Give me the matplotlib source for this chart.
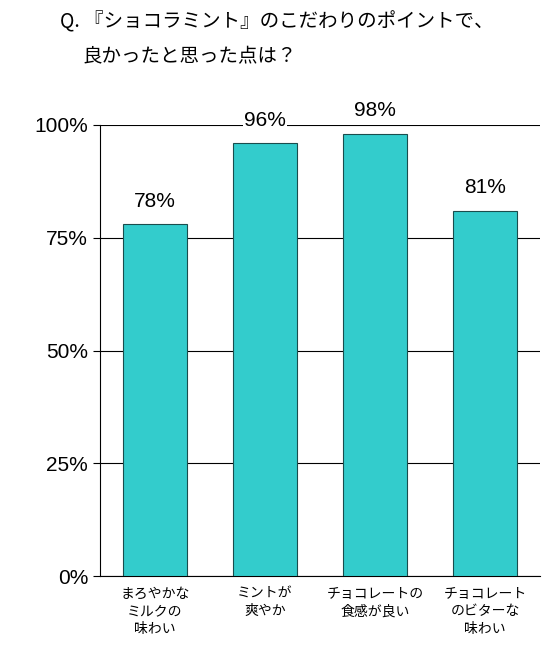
import matplotlib
matplotlib.use("Agg")
import matplotlib.pyplot as plt

plt.rcParams['font.family'] = ['Noto Sans CJK JP', 'DejaVu Sans']

categories = ["まろやかな\nミルクの\n味わい", "ミントが\n爽やか", "チョコレートの\n食感が良い", "チョコレート\nのビターな\n味わい"]
values = [78, 96, 98, 81]
yticks = [0, 25, 50, 75, 100]

fig = plt.figure(figsize=(5.49, 6.71), dpi=100)
ax = fig.add_axes([100/549, 1-576/671, 440/549, 451/671])

x = range(len(categories))
ax.bar(x, values, width=0.59, color='#33CCCC', edgecolor='#1a4d4d', linewidth=0.8, zorder=3)
for i, v in zip(x, values):
    ax.text(i, v + 3, f"{v}%", ha='center', va='bottom', fontsize=15,
            family='Liberation Sans',
            bbox=dict(facecolor='white', edgecolor='none', pad=1), zorder=4)

ax.set_xlim(-0.5, len(categories) - 0.5)
ax.set_ylim(0, 100)
ax.set_yticks(yticks)
ax.set_yticklabels([f"{t}%" for t in yticks], fontsize=15, family='Liberation Sans')
ax.yaxis.grid(True, color='black', linewidth=0.8, zorder=0)
ax.set_xticks(list(x))
ax.set_xticklabels(categories, fontsize=10, linespacing=1.3)
ax.tick_params(axis='x', length=0, pad=8)
ax.tick_params(axis='y', length=5, direction='out')
for s in ['top', 'right']:
    ax.spines[s].set_visible(False)
ax.spines['left'].set_color('black')
ax.spines['bottom'].set_color('black')
ax.set_clip_on(False)

fig.text(60/549, 1-22/671, "Q. 『ショコラミント』のこだわりのポイントで、", fontsize=14, va='center')
fig.text(82/549, 1-57/671, "良かったと思った点は？", fontsize=14, va='center')

fig.savefig("out.png", dpi=100)
